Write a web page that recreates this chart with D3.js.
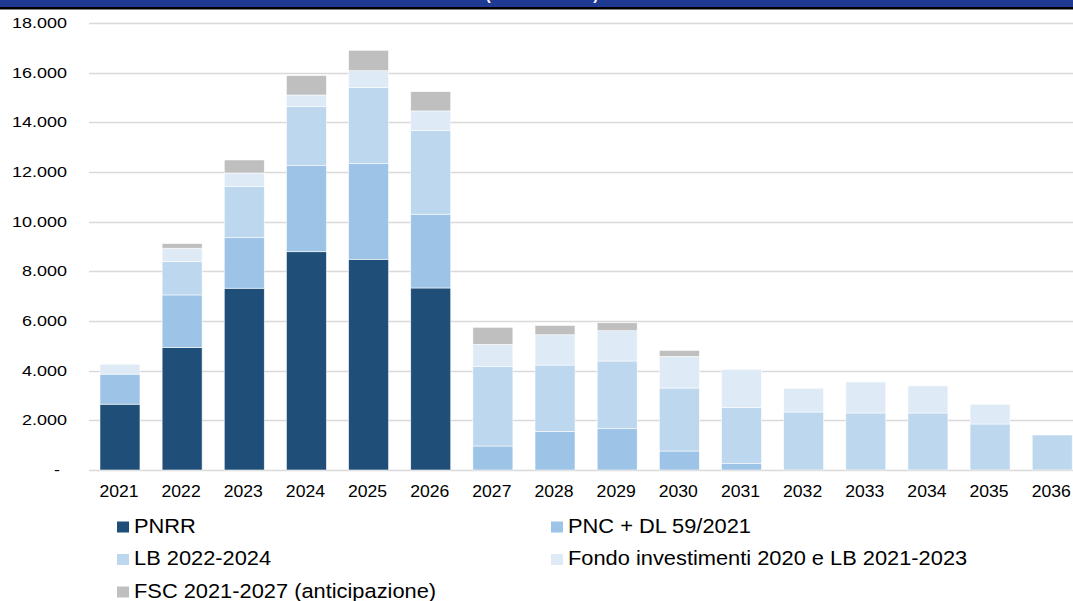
<!DOCTYPE html>
<html><head><meta charset="utf-8">
<script src="https://cdn.jsdelivr.net/npm/d3@7"></script>
<style>body{margin:0;background:#fff}svg{display:block;font-family:"Liberation Sans",Arial,sans-serif}</style>
</head><body>
<svg id="c" width="1073" height="601"></svg>
<script>
const years = ["2021","2022","2023","2024","2025","2026","2027","2028","2029","2030","2031","2032","2033","2034","2035","2036"];
const seriesNames = ["PNRR","PNC + DL 59/2021","LB 2022-2024","Fondo investimenti 2020 e LB 2021-2023","FSC 2021-2027 (anticipazione)"];
const pnrr  = [2650,4930,7320,8790,8485,7330,0,0,0,0,0,0,0,0,0,0];
const pnc   = [1210,2120,2035,3465,3850,2970,966,1557,1664,765,255,0,0,0,0,0];
const lb    = [0,1340,2055,2375,3075,3365,3195,2670,2725,2535,2255,2336,2295,2295,1852,1409];
const fondo = [400,540,550,470,670,795,900,1220,1220,1275,1545,955,1250,1090,795,0];
const fsc   = [0,185,525,780,820,775,685,375,320,240,0,0,0,0,0,0];
const yTicks = [0,2000,4000,6000,8000,10000,12000,14000,16000,18000];
const colors = ["#1F4E79","#9DC3E6","#BDD7EE","#DEEBF7","#BFBFBF"];

const svg = d3.select("#c");
const x = d3.scaleBand().domain(years).range([88.9, 1083.3]).paddingInner(0.3564).paddingOuter(0.1782);
const y = d3.scaleLinear().domain([0,18000]).range([470,23]);

// header band (title cut off at the top edge, as in the reference)
svg.append("rect").attr("x",0).attr("y",0).attr("width",1073).attr("height",7).attr("fill","#1F3A93");
svg.append("rect").attr("x",0).attr("y",7).attr("width",1073).attr("height",2.5).attr("fill","#000");
svg.append("text").attr("x",542).attr("y",0).attr("text-anchor","middle")
  .attr("fill","#fff").attr("font-size",15).attr("font-weight","bold").text("(milioni di euro)");

// gridlines
svg.append("g").selectAll("line").data(yTicks).join("line")
  .attr("x1",89).attr("x2",1073).attr("y1",d=>Math.round(y(d))+0.5).attr("y2",d=>Math.round(y(d))+0.5)
  .attr("stroke","#D9D9D9").attr("stroke-width",1.5);

// y labels
const fmt = v => v===0 ? "-" : d3.format(",")(v).replace(/,/g,".");
svg.append("g").selectAll("text").data(yTicks).join("text")
  .attr("transform",d=> d===0 ? `translate(57,${y(d)+5}) scale(1.24,1)` : `translate(67,${y(d)+5}) scale(1.24,1)`)
  .attr("text-anchor",d=> d===0 ? "middle" : "end")
  .attr("font-size",14.5).attr("fill","#000").text(fmt);

// stacked bars
const table = years.map((yr,i)=>({year:yr, s0:pnrr[i], s1:pnc[i], s2:lb[i], s3:fondo[i], s4:fsc[i]}));
const stack = d3.stack().keys(["s0","s1","s2","s3","s4"])(table);
svg.append("g").selectAll("g").data(stack).join("g").attr("fill",(d,i)=>colors[i])
  .selectAll("rect").data(d=>d.filter(p=>p[1]-p[0]>0)).join("rect")
  .attr("x",d=>x(d.data.year)).attr("width",x.bandwidth())
  .attr("y",d=>y(d[1])).attr("height",d=>y(d[0])-y(d[1]))
  .attr("stroke","#fff").attr("stroke-width",0.7).attr("stroke-opacity",0.8);

// x labels
svg.append("g").selectAll("text").data(years).join("text")
  .attr("transform",d=>`translate(${x(d)+x.bandwidth()/2-1},497) scale(1.1,1)`)
  .attr("text-anchor","middle").attr("font-size",16).attr("fill","#000").text(d=>d);

// legend
const legPos = [[117,521.5],[551,521.5],[117,554],[551,554],[117,586.5]];
const leg = svg.append("g").selectAll("g").data(seriesNames).join("g")
  .attr("transform",(d,i)=>`translate(${legPos[i][0]},${legPos[i][1]})`);
leg.append("rect").attr("width",12).attr("height",11).attr("fill",(d,i)=>colors[i]);
leg.append("text").attr("transform","translate(17,11) scale(1.12,1)")
  .attr("font-size",19.5).attr("fill","#000").text(d=>d);
</script>
</body></html>
